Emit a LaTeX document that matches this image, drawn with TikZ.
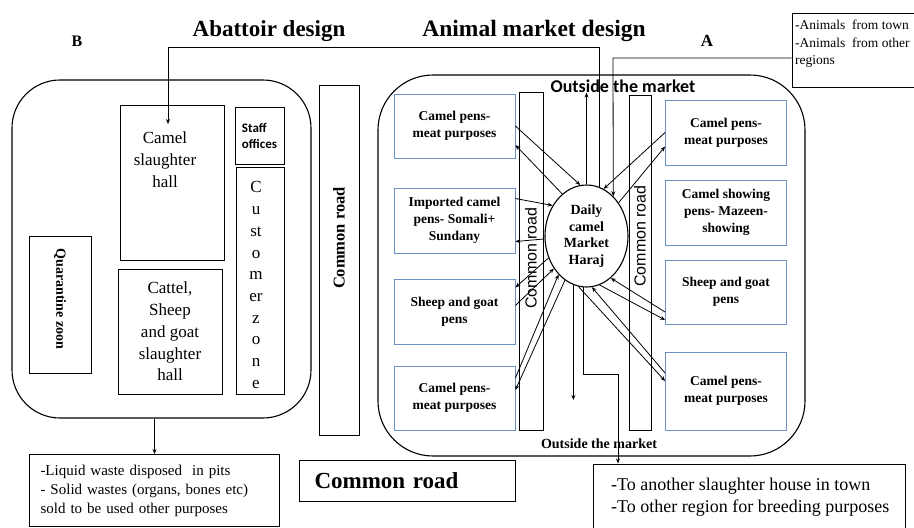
\documentclass[tikz,border=0pt]{standalone}
\usepackage{fontspec}
\setmainfont{Liberation Serif}
\setsansfont{Liberation Sans}
\newfontfamily\calibri{Carlito}
\usetikzlibrary{arrows.meta, positioning, shapes.geometric}
\definecolor{penblue}{RGB}{110,145,195}
\newcommand{\fsz}[2]{\fontsize{#1}{#2}\selectfont}

\begin{document}
\begin{tikzpicture}[x=1pt, y=-1pt, >={Stealth[length=5pt, width=4pt]},
    box/.style={draw, line width=1pt, inner sep=0pt},
    pen/.style={draw=penblue, line width=0.8pt, minimum width=121pt, minimum height=65pt, inner sep=0pt, align=center, font=\bfseries\fsz{13.5}{17}},
    area/.style={draw, line width=1.1pt, inner sep=0pt},
    flow/.style={->, line width=0.8pt},
    txt/.style={inner sep=0pt, align=center}]

\useasboundingbox (0,0) rectangle (914,528);

% titles
\node[txt, font=\bfseries\fsz{16}{18}] (labB) at (77,41) {B};
\node[txt, font=\bfseries\fsz{17}{19}] (labA) at (707,41) {A};
\node[txt, font=\bfseries\fsz{23}{26}] (abTitle) at (269,31) {Abattoir design};
\node[txt, font=\bfseries\fsz{23.5}{26}] (mkTitle) at (534,31) {Animal market design};

% abattoir (B)
\node[area, rounded corners=48pt, minimum width=299pt, minimum height=338pt] (abattoir) at (161.5,249) {};
\node[box, minimum width=104pt, minimum height=155pt] (camelHall) at (172,182.5) {};
\node[txt, font=\fsz{17}{22}] (camelHallText) at (165,160) {Camel\\slaughter\\hall};
\node[box, minimum width=104pt, minimum height=125pt, align=center, font=\fsz{17}{21.7}] (cattleHall) at (170,331.5) {Cattel,\\Sheep\\and goat\\slaughter\\hall};
\node[box, minimum width=49pt, minimum height=57pt, align=left, font=\calibri\bfseries\fsz{13}{16}] (staff) at (259.5,135.5) {Staff\\offices};
\node[box, minimum width=48pt, minimum height=227pt] (customer) at (260,280.5) {};
\node[txt, font=\fsz{17}{21.7}] (customerText) at (256,285) {C\\u\\st\\o\\m\\er\\z\\o\\n\\e};
\node[box, minimum width=62pt, minimum height=137pt] (quarantine) at (60,304.5) {};
\node[txt, rotate=-90, font=\bfseries\fsz{14}{16}] (quarantineText) at (60,299) {Quarantine zoon};

% roads
\node[box, minimum width=40pt, minimum height=350pt] (midRoad) at (339,260) {};
\node[txt, rotate=90, font=\bfseries\fsz{16.5}{18}] (midRoadText) at (339,238) {Common road};
\node[box, minimum width=216pt, minimum height=41pt, anchor=north west, inner xsep=15pt, text width=186pt, align=left, font=\bfseries\fsz{23}{25}] (roadBox) at (299,460) {Common road};

% waste
\node[box, minimum width=250pt, minimum height=72pt, anchor=north west, inner xsep=11pt, text width=228pt, align=left, font=\fsz{15}{19}] (waste) at (29,454) {-Liquid waste disposed\ \ in pits\\- Solid wastes (organs, bones etc)\\sold to be used other purposes};

% market (A)
\node[area, rounded corners=55pt, minimum width=427pt, minimum height=381pt] (market) at (591.5,265.5) {};
\node[txt, font=\calibri\bfseries\fsz{18}{20}] (outTop) at (623,86) {Outside the market};
\node[txt, font=\bfseries\fsz{14}{16}] (outBottom) at (599,444) {Outside the market};

\node[box, minimum width=24pt, minimum height=338pt] (roadL) at (531,261) {};
\node[txt, rotate=90, font=\sffamily\fsz{16}{18}] (roadLText) at (531,258) {Common road};
\node[box, minimum width=22pt, minimum height=335pt] (roadR) at (640,262.5) {};
\node[txt, rotate=90, font=\sffamily\fsz{16}{18}] (roadRText) at (640,236) {Common road};

\node[pen, minimum height=64pt] (penL1) at (454.5,126) {Camel pens-\\meat purposes};
\node[pen] (penL2) at (454.5,220.5) {Imported camel\\pens- Somali+\\Sundany};
\node[pen] (penL3) at (454.5,311.5) {Sheep and goat\\pens};
\node[pen, minimum height=64pt] (penL4) at (454.5,398) {Camel pens-\\meat purposes};
\node[pen] (penR1) at (726,132.5) {Camel pens-\\meat purposes};
\node[pen] (penR2) at (726,212.5) {Camel showing\\pens- Mazeen-\\showing};
\node[pen, minimum height=64pt] (penR3) at (726,292) {Sheep and goat\\pens};
\node[pen, minimum height=78pt] (penR4) at (726,391) {Camel pens-\\meat purposes};

\node[ellipse, draw, line width=1.1pt, inner sep=0pt, minimum width=83pt, minimum height=102pt, align=center, font=\bfseries\fsz{14}{16.7}] (haraj) at (586.5,236) {Daily\\camel\\Market\\Haraj};

% sources and exits
\node[box, minimum width=130pt, minimum height=74pt] (townbox) at (857,50) {};
\node[inner sep=0pt, anchor=north west, align=left, font=\fsz{13.5}{17.5}] (townText) at (795,20) {-Animals\ \ from town\\-Animals\ \ from other\\regions};
\node[box, minimum width=312pt, minimum height=80pt] (exitBox) at (749,504) {};
\node[inner sep=0pt, anchor=north west, align=left, font=\fsz{18}{22}] (exitText) at (611,478) {-To another slaughter house in town\\-To other region for breeding purposes};

\coordinate (abTurn) at (168,47);
\coordinate (hallIn) at (168,124);
\coordinate (townTurn) at (613,58);
\coordinate (downEnd) at (573,400);
\coordinate (elbow) at (618,374);

% flows
\draw[flow] (abattoir.south -| waste.north) -- (waste.north);
\draw[flow] (haraj.75) |- (abTurn) -- (hallIn);
\draw[flow] (townbox.west |- townTurn) -- (townTurn) -- (haraj.56);
\draw[flow] (haraj.north) -- (haraj.north |- outTop.south);
\draw[flow] (haraj.255) -- (haraj.255 |- downEnd);
\draw[flow] (haraj.266) |- (elbow) -- (exitBox.north -| elbow);

\draw[flow] (penL1.east) -- (haraj.97);
\draw[flow] (haraj.120) -- ([yshift=-19pt]penL1.east);
\draw[flow] ([yshift=22pt]penL2.east) -- (haraj.138);
\draw[flow] (haraj.184) -- ([yshift=-21pt]penL2.east);
\draw[flow] (haraj.210) -- ([yshift=24pt]penL3.east);
\draw[flow] ([yshift=6pt]penL3.east) -- (haraj.225);
\draw[flow] ([yshift=20pt]penL4.east) -- (haraj.234);
\draw[flow] (haraj.244) -- ([yshift=8pt]penL4.east);

\draw[flow] (penR1.west) -- (haraj.70);
\draw[flow] (haraj.46) -- ([yshift=-14pt]penR1.west);
\draw[flow] ([yshift=-20pt]penR3.west) -- (haraj.300);
\draw[flow] (haraj.285) -- ([yshift=-28pt]penR3.west);
\draw[flow] ([yshift=18pt]penR4.west) -- (haraj.276);
\draw[flow] (haraj.261) -- ([yshift=10pt]penR4.west);
\end{tikzpicture}
\end{document}
